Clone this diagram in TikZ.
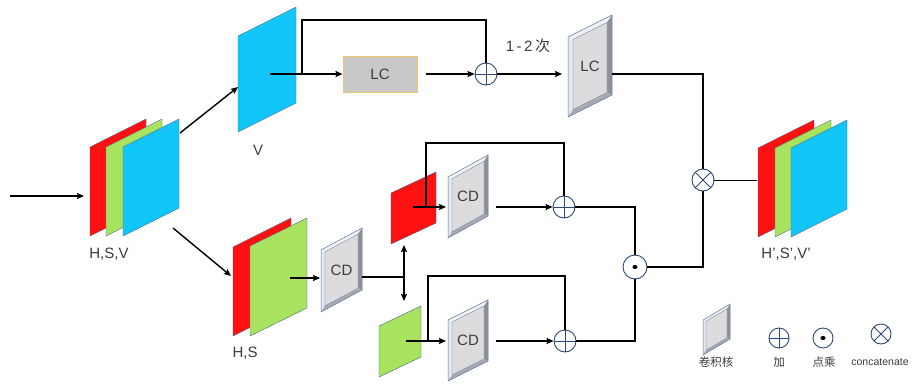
\documentclass[tikz,border=0pt]{standalone}
\usepackage{fontspec}
\setmainfont{Liberation Sans}
\newfontfamily\cjk{Noto Sans CJK SC}
\usetikzlibrary{arrows.meta,calc}
\definecolor{cred}{HTML}{FF1111}
\definecolor{cgreen}{HTML}{A8E35F}
\definecolor{cblue}{HTML}{12C6FA}
\definecolor{edgec}{HTML}{4A6184}
\definecolor{txtc}{HTML}{3C3C3C}
\definecolor{circc}{HTML}{2E4A72}
\definecolor{bvtop}{HTML}{EEF1F6}
\definecolor{bvleft}{HTML}{E4E8F0}
\definecolor{bvright}{HTML}{8C9098}
\definecolor{bvbot}{HTML}{A6AAB2}
\definecolor{bvface}{HTML}{DCDCDE}
\definecolor{lcedge}{HTML}{EBC870}
\definecolor{lcfill}{HTML}{C8C8C8}
\tikzset{
  planeedge/.style={draw=edgec, line width=0.4pt},
  bevtop/.style={fill=bvtop},
  bevleft/.style={fill=bvleft},
  bevright/.style={fill=bvright},
  bevbot/.style={fill=bvbot},
  face/.style={fill=bvface},
  frameedge/.style={draw=edgec!85, line width=0.5pt},
  lbl/.style={text=txtc, font=\fontsize{15}{15}\selectfont, inner sep=0pt},
  smalllbl/.style={text=txtc, font=\fontsize{10.5}{10.5}\selectfont, inner sep=0pt},
  cjklbl/.style={text=txtc, font=\cjk\fontsize{11.5}{11.5}\selectfont, inner sep=0pt},
  conn/.style={line width=1.4pt, black},
  arr/.style={conn, -{Stealth[length=7pt,width=6pt,inset=1pt]}},
  opc/.style={circle, draw=circc, line width=0.9pt, fill=white, minimum size=22pt, inner sep=0pt},
  oplus/.style={opc, path picture={\draw[circc, line width=0.9pt] (path picture bounding box.north) -- (path picture bounding box.south) (path picture bounding box.west) -- (path picture bounding box.east);}},
  odotc/.style={opc, minimum size=24pt, path picture={\fill[black] (path picture bounding box.center) ellipse (2.6pt and 2pt);}},
  otimesc/.style={opc, path picture={\draw[circc, line width=0.9pt] (path picture bounding box.north west) -- (path picture bounding box.south east) (path picture bounding box.south west) -- (path picture bounding box.north east);}},
  lcbox/.style={draw=lcedge, line width=0.9pt, fill=lcfill, minimum width=74pt, minimum height=36pt, inner sep=0pt, text=txtc, font=\fontsize{15}{15}\selectfont},
}
% plane: name, x, y (top-left), w, h, slant, colour
\newcommand\plane[7]{%
  \path[planeedge, fill=#7] (#2,#3) -- ({#2+#4},{#3-#6}) -- ({#2+#4},{#3-#6+#5}) -- (#2,{#3+#5}) -- cycle;
  \coordinate (#1) at ({#2+#4/2},{#3-#6/2+#5/2});
}
% frame: name, x, y, w, h, slant, bevel, label
\newcommand\pframe[8]{%
  \coordinate (#1A) at (#2,#3);
  \coordinate (#1B) at ({#2+#4},{#3-#6});
  \coordinate (#1C) at ({#2+#4},{#3-#6+#5});
  \coordinate (#1D) at (#2,{#3+#5});
  \coordinate (#1a) at ({#2+#7},{#3-#6*#7/#4+#7});
  \coordinate (#1b) at ({#2+#4-#7},{#3-#6*(#4-#7)/#4+#7});
  \coordinate (#1c) at ({#2+#4-#7},{#3-#6*(#4-#7)/#4+#5-#7});
  \coordinate (#1d) at ({#2+#7},{#3-#6*#7/#4+#5-#7});
  \fill[bevtop] (#1A)--(#1B)--(#1b)--(#1a)--cycle;
  \fill[bevleft] (#1A)--(#1a)--(#1d)--(#1D)--cycle;
  \fill[bevright] (#1B)--(#1C)--(#1c)--(#1b)--cycle;
  \fill[bevbot] (#1D)--(#1d)--(#1c)--(#1C)--cycle;
  \fill[face] (#1a)--(#1b)--(#1c)--(#1d)--cycle;
  \draw[frameedge] (#1A)--(#1B)--(#1C)--(#1D)--cycle;
  \draw[frameedge, line width=0.3pt] (#1a)--(#1b)--(#1c)--(#1d)--cycle;
  \node[lbl] (#1) at ({#2+#4/2},{#3-#6/2+#5/2}) {#8};
}
\begin{document}
\begin{tikzpicture}[x=1pt, y=-1pt]
\useasboundingbox (0,0) rectangle (921,383);
\fill[white] (0,0) rectangle (921,383);

% ---------- planes ----------
\plane{hsvr}{90}{147}{56}{89}{28}{cred}
\plane{hsvg}{106}{147}{56}{89}{28}{cgreen}
\plane{hsvb}{123}{147}{56}{89}{28}{cblue}
\node[lbl] (lhsv) at (109,254) {H,S,V};

\plane{vpl}{238}{36}{58}{96}{29}{cblue}
\node[lbl] (lv) at (258,150) {V};

\plane{hsr}{233}{247}{58}{89}{29}{cred}
\plane{hsg}{250}{246}{57}{90}{28}{cgreen}
\node[lbl] (lhs) at (245,353) {H,S};

\plane{rsm}{391}{193}{45}{51}{21}{cred}
\plane{gsm}{379}{326}{42}{51}{20}{cgreen}

\plane{outr}{758}{148}{56}{89}{28}{cred}
\plane{outg}{775}{148}{56}{89}{28}{cgreen}
\plane{outb}{791}{148}{56}{89}{28}{cblue}
\node[lbl] (lout) at (786,254) {H',S',V'};

% ---------- frames ----------
\pframe{lcf}{568}{37}{44}{80}{22}{5}{LC}
\pframe{cda}{321}{250}{41}{62}{22}{4}{CD}
\pframe{cdb}{448}{177}{40}{61}{22}{4}{CD}
\pframe{cdc}{448}{320}{40}{61}{20}{4}{CD}
\pframe{leg}{703}{320}{27}{35}{16}{3}{}

% ---------- operators ----------
\node[lcbox] (lc) at (380,74) {LC};
\node[oplus] (p1) at (486,74) {};
\node[oplus] (p2) at (564,207) {};
\node[oplus] (p3) at (565,341) {};
\node[odotc] (od) at (635,267) {};
\node[otimesc] (ot) at (703,180) {};

% ---------- coordinates ----------
\coordinate (in0) at (10,196);
\coordinate (in1) at (84,196);
\coordinate (hsvUR) at (180,133);
\coordinate (vL) at (238,87);
\coordinate (hsvLR) at (173,228);
\coordinate (hsL) at (231,276);
\coordinate (vin) at (270,74);
\coordinate (br1) at (302,74);
\coordinate (top1) at (302,20);
\coordinate (lcfL) at (562,74);
\coordinate (lcfR) at (612,74);
\coordinate (outL) at (757,180);
\coordinate (hsin) at (290,278);
\coordinate (cdaL) at (320,278);
\coordinate (cdaR) at (362,277);
\coordinate (sp) at (404,277);
\coordinate (spU) at (404,245);
\coordinate (spD) at (404,301);
\coordinate (rin) at (413,207);
\coordinate (rb) at (426,207);
\coordinate (rtop) at (426,143);
\coordinate (cdbL) at (446,207);
\coordinate (cdbR) at (496,207);
\coordinate (gin) at (406,341);
\coordinate (gb) at (428,341);
\coordinate (gtop) at (428,276);
\coordinate (cdcL) at (446,341);
\coordinate (cdcR) at (496,341);

% ---------- connectors ----------
\draw[arr] (in0) -- (in1);
\draw[arr] (hsvUR) -- (vL);
\draw[arr] (hsvLR) -- (hsL);
\draw[arr] (vin) -- (lc.west);
\draw[conn] (br1) -- (top1) -- (p1.north |- top1) -- (p1.north);
\draw[arr] ([xshift=9pt]lc.east) -- (p1.west);
\draw[arr] (p1.east) -- (lcfL);
\node[lbl, font=\fontsize{15}{15}\selectfont] (rep) at (528,46) {1\,-\,2\,{\cjk 次}};
\draw[conn] (lcfR) -- (ot.north |- lcfR) -- (ot.north);
\draw[conn] (od.east) -- (ot.south |- od.east) -- (ot.south);
\draw[conn, line width=1pt] (ot.east) -- (outL);

\draw[arr] (hsin) -- (cdaL);
\draw[conn] (cdaR) -- (sp);
\draw[conn, {Stealth[length=7pt,width=6pt,inset=1pt]}-{Stealth[length=7pt,width=6pt,inset=1pt]}] (spU) -- (spD);

\draw[arr] (rin) -- (cdbL);
\draw[conn] (rb) -- (rtop) -- (p2.north |- rtop) -- (p2.north);
\draw[arr] (cdbR) -- (p2.west);
\draw[conn] (p2.east) -- (od.north |- p2.east) -- (od.north);

\draw[arr] (gin) -- (cdcL);
\draw[conn] (gb) -- (gtop) -- (p3.north |- gtop) -- (p3.north);
\draw[arr] (cdcR) -- (p3.west);
\draw[conn] (p3.east) -- (od.south |- p3.east) -- (od.south);

% ---------- legend ----------
\node[oplus, minimum size=20pt] (lgp) at (779,338) {};
\node[odotc, minimum size=20pt] (lgo) at (823,338) {};
\node[otimesc, minimum size=20pt] (lgx) at (881,334) {};
\node[cjklbl] (t1) at (716,362) {卷积核};
\node[cjklbl] (t2) at (779,362) {加};
\node[cjklbl] (t3) at (824,362) {点乘};
\node[smalllbl] (t4) at (880,362) {concatenate};
\end{tikzpicture}
\end{document}
